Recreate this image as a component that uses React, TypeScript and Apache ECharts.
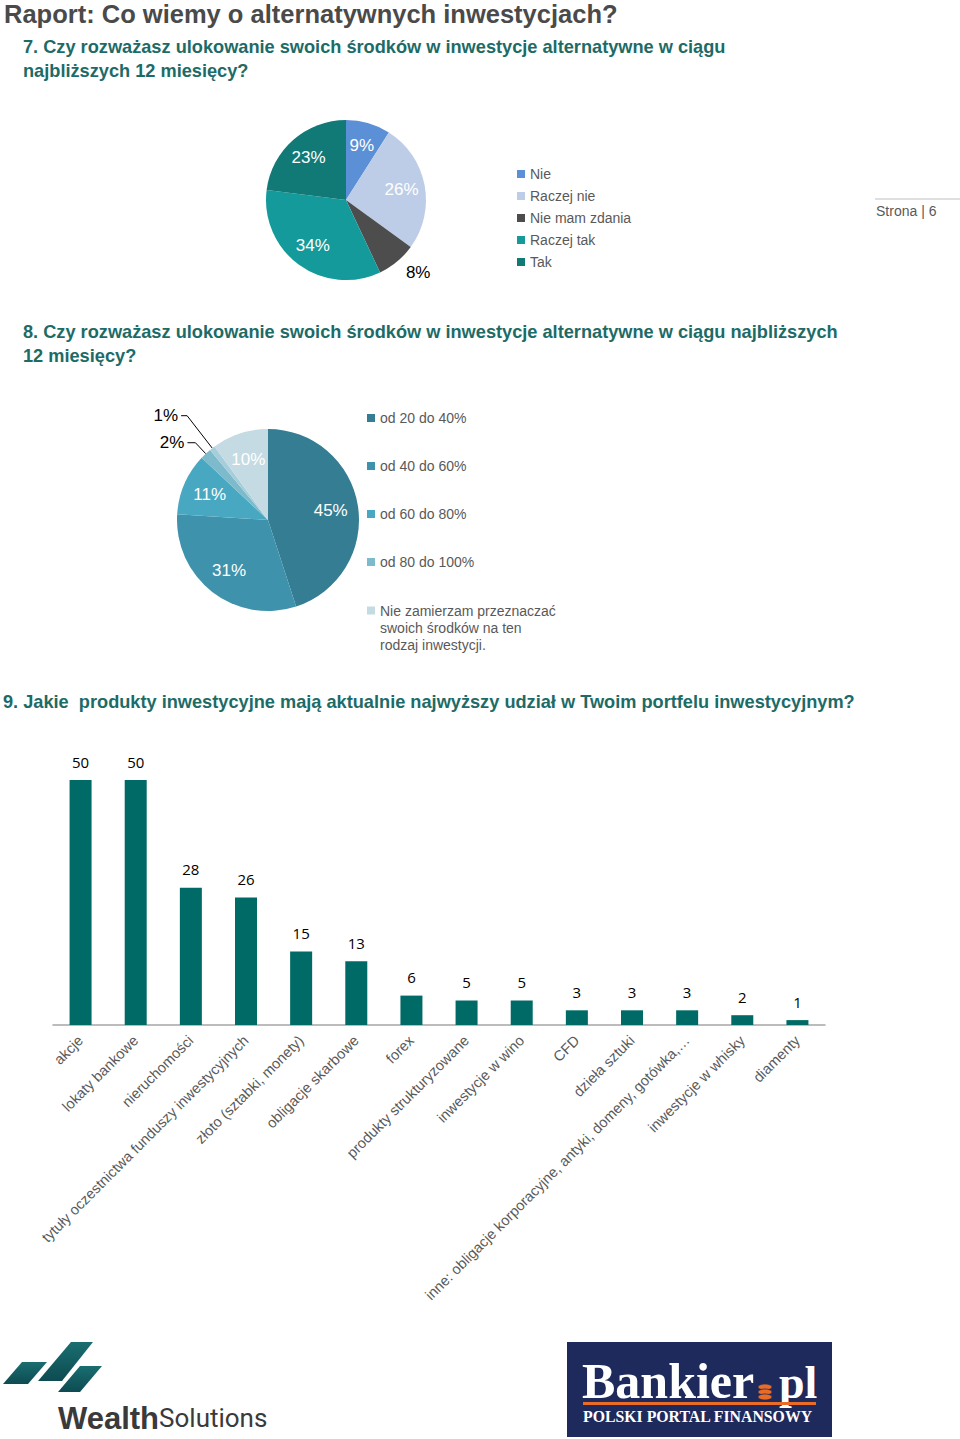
import React, { useEffect, useRef } from "react";
import * as echarts from "echarts";

// ---------- data ----------
const pageTitle = "Raport: Co wiemy o alternatywnych inwestycjach?";
const q7Lines = [
  "7. Czy rozważasz ulokowanie swoich środków w inwestycje alternatywne w ciągu",
  "najbliższych 12 miesięcy?",
];
const q8Lines = [
  "8. Czy rozważasz ulokowanie swoich środków w inwestycje alternatywne w ciągu najbliższych",
  "12 miesięcy?",
];
const q9Text =
  "9. Jakie  produkty inwestycyjne mają aktualnie najwyższy udział w Twoim portfelu inwestycyjnym?";
const pageLabel = "Strona | 6";

const pie1Names = ["Nie", "Raczej nie", "Nie mam zdania", "Raczej tak", "Tak"];
const pie1Values = [9, 26, 8, 34, 23];
const pie1Colors = ["#5B8FD6", "#BDCDE7", "#4D4D4D", "#149A9A", "#117A77"];

const pie2Names = [
  "od 20 do 40%",
  "od 40 do 60%",
  "od 60 do 80%",
  "od 80 do 100%",
  "",
  "Nie zamierzam przeznaczać swoich środków na ten rodzaj inwestycji.",
];
const pie2Values = [45, 31, 11, 2, 1, 10];
const pie2Colors = ["#357D93", "#3E92AB", "#49A8C1", "#7DBACC", "#A5CDDA", "#C5DBE3"];
const pie2LastLegendLines = [
  "Nie zamierzam przeznaczać",
  "swoich środków na ten",
  "rodzaj inwestycji.",
];

const barCategories = [
  "akcje",
  "lokaty bankowe",
  "nieruchomości",
  "tytuły oczestnictwa funduszy inwestycyjnych",
  "złoto (sztabki, monety)",
  "obligacje skarbowe",
  "forex",
  "produkty strukturyzowane",
  "inwestycje w wino",
  "CFD",
  "dzieła sztuki",
  "inne: obligacje korporacyjne, antyki, domeny, gotówka,…",
  "inwestycje w whisky",
  "diamenty",
];
const barValues = [50, 50, 28, 26, 15, 13, 6, 5, 5, 3, 3, 3, 2, 1];

// ---------- component ----------
export default function App() {
  const ref = useRef<HTMLDivElement>(null);

  useEffect(() => {
    if (!ref.current) return;
    const chart = echarts.init(ref.current, undefined, { renderer: "svg" });

    const sans = '"Liberation Sans", Arial, sans-serif';
    const serif = '"Liberation Serif", "DejaVu Serif", serif';
    const teal = "#1D6B67";

    const pieLabelBase = {
      show: true,
      position: "inside",
      formatter: "{c}%",
      color: "#fff",
      fontSize: 17,
      fontFamily: sans,
      distanceToLabelLine: 3,
    };

    const pie1Overlay = pie1Values.map((v, i) => {
      const item: any = { name: pie1Names[i], value: v, itemStyle: { color: "transparent" } };
      if (i === 2) {
        item.label = { position: "outside", color: "#000", distanceToLabelLine: 0 };
        item.labelLine = { show: false, length: 14, length2: 0 };
      }
      return item;
    });

    const pie2Overlay = pie2Values.map((v, i) => {
      const item: any = { name: pie2Names[i], value: v, itemStyle: { color: "transparent" } };
      if (i === 3) {
        item.label = { position: "outside", color: "#000" };
        item.labelLine = { show: true, length: 15, length2: 8 };
      }
      if (i === 4) {
        item.label = { position: "outside", color: "#000" };
        item.labelLine = { show: true, length: 41, length2: 6 };
      }
      return item;
    });

    const legendText = { fontSize: 14, color: "#595959", fontFamily: sans };

    const option: any = {
      animation: false,
      backgroundColor: "#fff",
      legend: [
        {
          orient: "vertical",
          left: 512,
          top: 162,
          itemWidth: 8,
          itemHeight: 8,
          itemGap: 8,
          icon: "rect",
          selectedMode: false,
          textStyle: legendText,
          data: pie1Names,
        },
        {
          orient: "vertical",
          left: 362,
          top: 406,
          itemWidth: 8,
          itemHeight: 8,
          itemGap: 34,
          icon: "rect",
          selectedMode: false,
          textStyle: legendText,
          data: pie2Names.slice(0, 4),
        },
        {
          orient: "vertical",
          left: 362,
          top: 563,
          itemWidth: 8,
          itemHeight: 8,
          icon: "rect",
          selectedMode: false,
          textStyle: { ...legendText, lineHeight: 17 },
          formatter: () => "\n\n" + pie2LastLegendLines.join("\n"),
          data: [pie2Names[5]],
        },
      ],
      grid: { left: 53, top: 780, width: 772, height: 245 },
      xAxis: {
        type: "category",
        data: barCategories,
        axisLine: { show: true, lineStyle: { color: "#A6A6A6", width: 1.5 } },
        axisTick: { show: false },
        axisLabel: {
          interval: 0,
          rotate: 45,
          margin: 13,
          fontSize: 14.6,
          color: "#595959",
          fontFamily: sans,
        },
      },
      yAxis: { type: "value", min: 0, max: 50, show: false, splitLine: { show: false } },
      series: [
        {
          name: "pie1",
          type: "pie",
          center: [346, 200],
          radius: [0, 80],
          startAngle: 90,
          label: { show: false },
          labelLine: { show: false },
          emphasis: { disabled: true },
          data: pie1Values.map((v, i) => ({
            name: pie1Names[i],
            value: v,
            itemStyle: { color: pie1Colors[i] },
          })),
        },
        {
          name: "pie1labels",
          type: "pie",
          center: [346, 200],
          radius: [27, 80],
          startAngle: 90,
          silent: true,
          avoidLabelOverlap: false,
          emphasis: { disabled: true },
          label: pieLabelBase,
          labelLine: { show: false },
          data: pie1Overlay,
        },
        {
          name: "pie2",
          type: "pie",
          center: [268, 520],
          radius: [0, 91],
          startAngle: 90,
          label: { show: false },
          labelLine: { show: false },
          emphasis: { disabled: true },
          data: pie2Values.map((v, i) => ({
            name: pie2Names[i],
            value: v,
            itemStyle: { color: pie2Colors[i] },
          })),
        },
        {
          name: "pie2labels",
          type: "pie",
          center: [268, 520],
          radius: [30, 91],
          startAngle: 90,
          silent: true,
          avoidLabelOverlap: false,
          emphasis: { disabled: true },
          label: pieLabelBase,
          labelLine: { show: false, lineStyle: { color: "#000", width: 1 }, smooth: false },
          data: pie2Overlay,
        },
        {
          name: "bars",
          type: "bar",
          data: barValues,
          barWidth: 22,
          itemStyle: { color: "#006B66" },
          label: {
            show: true,
            position: "top",
            distance: 11,
            fontSize: 15,
            color: "#000",
            fontFamily: '"Open Sans", "Noto Sans", sans-serif',
          },
        },
      ],
      graphic: [
        {
          type: "text",
          x: 4,
          y: 14,
          style: { text: pageTitle, font: `bold 25.5px ${sans}`, fill: "#4A4A4A", verticalAlign: "middle" },
        },
        ...q7Lines.map((t, i) => ({
          type: "text",
          x: 23,
          y: 47 + i * 24,
          style: { text: t, font: `bold 18.2px ${sans}`, fill: teal, verticalAlign: "middle" },
        })),
        ...q8Lines.map((t, i) => ({
          type: "text",
          x: 23,
          y: 332 + i * 24,
          style: { text: t, font: `bold 18.2px ${sans}`, fill: teal, verticalAlign: "middle" },
        })),
        {
          type: "text",
          x: 3,
          y: 702,
          style: { text: q9Text, font: `bold 18.2px ${sans}`, fill: teal, verticalAlign: "middle" },
        },
        {
          type: "line",
          shape: { x1: 875, y1: 199, x2: 960, y2: 199 },
          style: { stroke: "#BFBFBF", lineWidth: 1 },
        },
        {
          type: "text",
          x: 876,
          y: 211,
          style: { text: pageLabel, font: `14px ${sans}`, fill: "#595959", verticalAlign: "middle" },
        },
        // WealthSolutions logo
        ...[
          [[22, 1362], [47, 1362], [28, 1384], [3, 1384]],
          [[71, 1342], [93, 1342], [62, 1381], [38, 1381]],
          [[80, 1366], [102, 1366], [80, 1392], [58, 1392]],
        ].map((pts) => ({
          type: "polygon",
          shape: { points: pts },
          style: {
            fill: new echarts.graphic.LinearGradient(0, 0, 0, 1, [
              { offset: 0, color: "#1A6E70" },
              { offset: 1, color: "#0D4B52" },
            ]),
          },
        })),
        {
          type: "text",
          x: 58,
          y: 1418,
          style: {
            text: "{b|Wealth}{r|Solutions}",
            verticalAlign: "middle",
            rich: {
              b: { fontFamily: sans, fontWeight: "bold", fontSize: 31, fill: "#3A3A3A", color: "#3A3A3A" },
              r: { fontFamily: "Roboto, sans-serif", fontWeight: "normal", fontSize: 26, fill: "#3A3A3A", color: "#3A3A3A" },
            },
          },
        },
        // Bankier.pl logo
        {
          type: "rect",
          shape: { x: 567, y: 1342, width: 265, height: 95 },
          style: { fill: "#1F2A5C" },
        },
        {
          type: "text",
          x: 582,
          y: 1381,
          style: { text: "Bankier", font: `bold 50px ${serif}`, fill: "#fff", verticalAlign: "middle" },
        },
        ...[1387, 1392, 1397].map((cy) => ({
          type: "ellipse",
          shape: { cx: 765, cy, rx: 7, ry: 3 },
          style: { fill: "#E96B25", stroke: "#1F2A5C", lineWidth: 0.8 },
        })),
        {
          type: "text",
          x: 779,
          y: 1382,
          style: { text: "pl", font: `bold 46px ${serif}`, fill: "#fff", verticalAlign: "middle" },
        },
        {
          type: "rect",
          shape: { x: 583, y: 1402, width: 233, height: 3 },
          style: { fill: "#E96B25" },
        },
        {
          type: "text",
          x: 583,
          y: 1416,
          style: {
            text: "POLSKI PORTAL FINANSOWY",
            font: `bold 15.8px ${serif}`,
            fill: "#fff",
            verticalAlign: "middle",
          },
        },
      ],
    };

    chart.setOption(option);
    return () => chart.dispose();
  }, []);

  return (
    <div
      ref={ref}
      style={{ position: "absolute", left: 0, top: 0, width: 960, height: 1439 }}
    />
  );
}
